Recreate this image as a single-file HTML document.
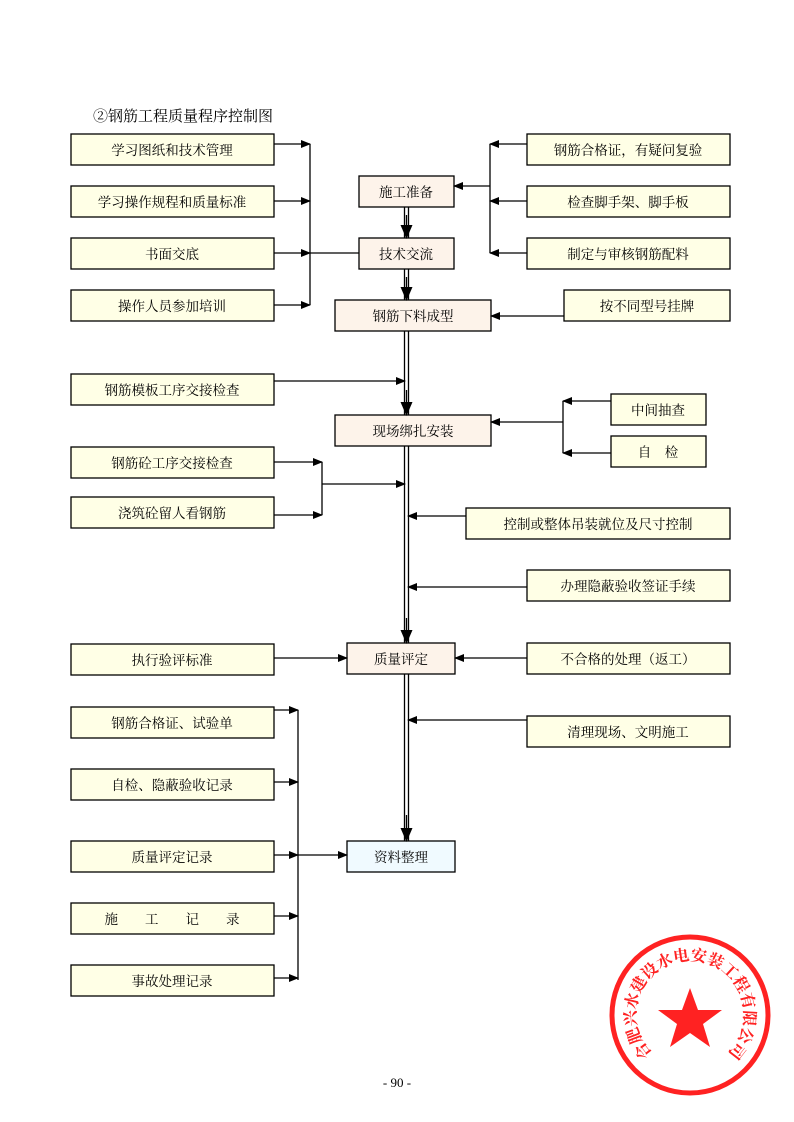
<!DOCTYPE html>
<html><head><meta charset="utf-8"><style>
html,body{margin:0;padding:0;background:#fff;}
svg{display:block;font-family:"Liberation Serif","Noto Serif CJK SC","Noto Sans CJK SC",serif;}
</style></head><body>
<svg width="794" height="1122" viewBox="0 0 794 1122" xmlns="http://www.w3.org/2000/svg">
<defs>
<marker id="a" markerWidth="10" markerHeight="8" refX="9" refY="4" orient="auto" markerUnits="userSpaceOnUse"><path d="M0,0 L10,4 L0,8 Z" fill="#000"/></marker>
<marker id="b" markerWidth="14" markerHeight="12" refX="13" refY="6" orient="auto" markerUnits="userSpaceOnUse"><path d="M0,0 L14,6 L0,12 Z" fill="#000"/></marker>
<path id="sp" d="M652,1053 A54,54 0 1 1 728,1053" fill="none"/>
</defs>
<text x="93" y="121" font-size="15">②钢筋工程质量程序控制图</text>
<g stroke="#000" stroke-width="1.3" font-size="13.5" text-anchor="middle">
<g fill="#FFFFE6">
<rect x="71" y="134" width="203" height="31"/><rect x="71" y="186" width="203" height="31"/>
<rect x="71" y="238" width="203" height="31"/><rect x="71" y="290" width="203" height="31"/>
<rect x="71" y="374" width="203" height="31"/><rect x="71" y="447" width="203" height="31"/>
<rect x="71" y="497" width="203" height="31"/><rect x="71" y="644" width="203" height="31"/>
<rect x="71" y="707" width="203" height="31"/><rect x="71" y="769" width="203" height="31"/>
<rect x="71" y="841" width="203" height="31"/><rect x="71" y="903" width="203" height="31"/>
<rect x="71" y="965" width="203" height="31"/>
<rect x="527" y="134" width="203" height="31"/><rect x="527" y="186" width="203" height="31"/>
<rect x="527" y="238" width="203" height="31"/><rect x="564" y="290" width="166" height="31"/>
<rect x="611" y="394" width="95" height="31"/><rect x="611" y="436" width="95" height="31"/>
<rect x="466" y="508" width="264" height="31"/><rect x="527" y="570" width="203" height="31"/>
<rect x="527" y="643" width="203" height="31"/><rect x="527" y="716" width="203" height="31"/>
</g>
<g fill="#FDF3EA">
<rect x="359" y="176" width="95" height="31"/><rect x="359" y="238" width="95" height="31"/>
<rect x="335" y="300" width="156" height="31"/><rect x="335" y="415" width="156" height="31"/>
<rect x="347" y="643" width="108" height="31"/>
</g>
<rect x="347" y="841" width="108" height="31" fill="#F0FAFF"/>
<g fill="none">
<path d="M310,144 V305 M310,253 H359"/>
<path d="M274,144 H310" marker-end="url(#a)"/><path d="M274,201 H310" marker-end="url(#a)"/>
<path d="M274,253 H310" marker-end="url(#a)"/><path d="M274,305 H310" marker-end="url(#a)"/>
<path d="M490,144 V253"/>
<path d="M527,144 H490" marker-end="url(#a)"/><path d="M527,201 H490" marker-end="url(#a)"/>
<path d="M527,253 H490" marker-end="url(#a)"/><path d="M490,186 H454" marker-end="url(#a)"/>
<path d="M564,316 H491" marker-end="url(#a)"/>
<path d="M404.5,207 V238 M408.5,207 V238 M404.5,269 V300 M408.5,269 V300 M404.5,331 V415 M408.5,331 V415 M404.5,446 V643 M408.5,446 V643 M404.5,674 V841 M408.5,674 V841"/>
<path d="M406.5,215 V238" marker-end="url(#b)"/><path d="M406.5,277 V300" marker-end="url(#b)"/>
<path d="M406.5,390 V415" marker-end="url(#b)"/><path d="M406.5,618 V643" marker-end="url(#b)"/>
<path d="M406.5,815 V841" marker-end="url(#b)"/>
<path d="M274,381 H405" marker-end="url(#a)"/>
<path d="M563,401 V453"/>
<path d="M611,401 H563" marker-end="url(#a)"/><path d="M611,453 H563" marker-end="url(#a)"/>
<path d="M563,422 H491" marker-end="url(#a)"/>
<path d="M322,462 V515"/>
<path d="M274,462 H322" marker-end="url(#a)"/><path d="M274,515 H322" marker-end="url(#a)"/>
<path d="M322,484 H405" marker-end="url(#a)"/>
<path d="M466,516 H408" marker-end="url(#a)"/><path d="M527,587 H408" marker-end="url(#a)"/>
<path d="M274,658 H347" marker-end="url(#a)"/><path d="M527,658 H455" marker-end="url(#a)"/>
<path d="M527,720 H408" marker-end="url(#a)"/>
<path d="M298,710 V980"/>
<path d="M274,710 H298" marker-end="url(#a)"/><path d="M274,782 H298" marker-end="url(#a)"/>
<path d="M274,855 H298" marker-end="url(#a)"/><path d="M274,916 H298" marker-end="url(#a)"/>
<path d="M274,978 H298" marker-end="url(#a)"/>
<path d="M298,855 H347" marker-end="url(#a)"/>
</g>
</g>
<g font-size="13.5" text-anchor="middle" fill="#000">
<text x="172" y="155">学习图纸和技术管理</text><text x="172" y="207">学习操作规程和质量标准</text>
<text x="172" y="259">书面交底</text><text x="172" y="311">操作人员参加培训</text>
<text x="172" y="395">钢筋模板工序交接检查</text><text x="172" y="468">钢筋砼工序交接检查</text>
<text x="172" y="518">浇筑砼留人看钢筋</text><text x="172" y="665">执行验评标准</text>
<text x="172" y="728">钢筋合格证、试验单</text><text x="172" y="790">自检、隐蔽验收记录</text>
<text x="172" y="862">质量评定记录</text><text x="172" y="924" xml:space="preserve">施　　工　　记　　录</text>
<text x="172" y="986">事故处理记录</text>
<text x="628" y="155">钢筋合格证，有疑问复验</text><text x="628" y="207">检查脚手架、脚手板</text>
<text x="628" y="259">制定与审核钢筋配料</text><text x="647" y="311">按不同型号挂牌</text>
<text x="658" y="415">中间抽查</text><text x="658" y="457">自　检</text>
<text x="598" y="529">控制或整体吊装就位及尺寸控制</text><text x="628" y="591">办理隐蔽验收签证手续</text>
<text x="628" y="664">不合格的处理（返工）</text><text x="628" y="737">清理现场、文明施工</text>
<text x="406" y="197">施工准备</text><text x="406" y="259">技术交流</text>
<text x="413" y="321">钢筋下料成型</text><text x="413" y="436">现场绑扎安装</text>
<text x="401" y="664">质量评定</text><text x="401" y="862">资料整理</text>
<text x="397" y="1087" font-size="13">- 90 -</text>
</g>
<g>
<circle cx="690" cy="1015" r="78" fill="none" stroke="#F22" stroke-width="5"/>
<path d="M690,988 L698,1010 L722,1010 L703,1024 L710,1047 L690,1033 L670,1047 L677,1024 L658,1010 L682,1010 Z" fill="#F22"/>
<text font-size="16" font-weight="bold" fill="#F22" text-anchor="middle">
<textPath href="#sp" startOffset="50%">合肥兴水建设水电安装工程有限公司</textPath></text>
</g>
</svg>
</body></html>
